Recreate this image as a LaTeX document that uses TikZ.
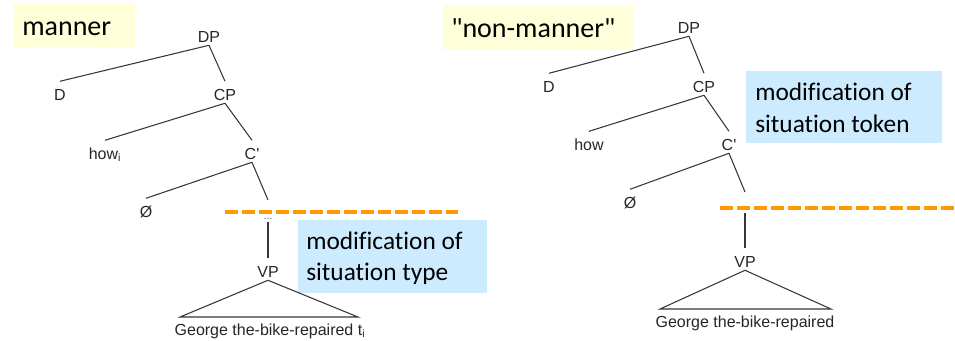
\documentclass[tikz,border=0pt]{standalone}
\usepackage{fontspec}
\newfontfamily\treefont{Liberation Sans}[Ligatures=ResetAll]
\newfontfamily\boxfont{Carlito}[Ligatures={NoCommon}]
\definecolor{yellowbg}{RGB}{255,255,217}
\definecolor{bluebg}{RGB}{204,235,255}
\definecolor{dashorange}{RGB}{255,153,0}
\definecolor{treegray}{RGB}{55,55,55}
\begin{document}
\begin{tikzpicture}[x=0.75pt,y=-0.75pt,
  lab/.style={font=\treefont\fontsize{12}{14}\selectfont, inner sep=0pt, anchor=base,
              text height=8.6pt, text depth=0pt, text=black!85},
  branch/.style={draw=treegray, line width=0.8pt},
  bigtext/.style={font=\boxfont\fontsize{21}{25}\selectfont, anchor=base west, inner sep=0pt},
  modtext/.style={font=\boxfont\fontsize{19}{23}\selectfont, anchor=base west, inner sep=0pt},
  dotsstyle/.style={font=\treefont\fontsize{8}{9}\selectfont, text=black!65, inner sep=0pt},
  cut/.style={draw=dashorange, line width=3pt, dash pattern=on 9.5pt off 3.25pt}
]
\useasboundingbox (0,0) rectangle (955,340);

% ---------------- boxes ----------------
\fill[yellowbg] (13,3) rectangle (135,48);
\node[bigtext] (manner) at (22,35) {manner};
\fill[yellowbg] (443,5) rectangle (634,50);
\node[bigtext] (nonmanner) at (451,37) {"non-manner"};
\fill[bluebg] (298,220) rectangle (487,293);
\node[modtext] (typeA) at (306,249) {modification of};
\node[modtext] (typeB) at (306,280) {situation type};
\fill[bluebg] (746,71) rectangle (942,143);
\node[modtext] (tokA) at (755,100) {modification of};
\node[modtext] (tokB) at (755,132) {situation token};

% ---------------- left tree ----------------
\node[lab] (lDP) at (209,42) {DP};
\node[lab] (lD) at (60,100) {D};
\node[lab] (lCP) at (225,100) {CP};
\node[lab] (lhow) at (105,159) {how\textsubscript{i}};
\node[lab] (lCb) at (252,159) {C'};
\node[lab] (lnull) at (146,217) {Ø};
\coordinate (lend) at (268,200);

\coordinate (lcut1) at (225,212);
\coordinate (lcut2) at (458,212);
\draw[cut] (lcut1) -- (lcut2);

\node[dotsstyle] (ldots) at (268,218.5) {...};
\node[lab] (lVP) at (268,277) {VP};
\node[lab] (lG) at (270,335) {George the-bike-repaired t\textsubscript{i}};
\coordinate (lbl) at (180,317);
\coordinate (lbr) at (358,317);

\draw[branch] ([yshift=-2.25pt]lDP.south) -- ([yshift=5.25pt]lD.north);
\draw[branch] ([yshift=-2.25pt]lDP.south) -- ([yshift=5.25pt]lCP.north);
\draw[branch] ([yshift=-2.25pt]lCP.south) -- ([yshift=5.25pt]lhow.north);
\draw[branch] ([yshift=-2.25pt]lCP.south) -- ([yshift=5.25pt]lCb.north);
\draw[branch] ([yshift=-2.25pt]lCb.south) -- ([yshift=5.25pt]lnull.north);
\draw[branch] ([yshift=-2.25pt]lCb.south) -- (lend);
\draw[branch] ([yshift=-2.25pt]ldots.south) -- ([yshift=5.25pt]lVP.north);
\draw[branch] ([yshift=-2.25pt]lVP.south) -- (lbl) -- (lbr) -- cycle;

% ---------------- right tree ----------------
\node[lab] (rDP) at (689,33) {DP};
\node[lab] (rD) at (549,92) {D};
\node[lab] (rCP) at (704,92) {CP};
\node[lab] (rhow) at (589,150) {how};
\node[lab] (rCb) at (729,150) {C'};
\node[lab] (rnull) at (630,208) {Ø};
\coordinate (rend) at (745,192);
\coordinate (rtop) at (745,213);
\node[lab] (rVP) at (745,267) {VP};
\node[lab] (rG) at (745,327) {George the-bike-repaired};
\coordinate (rbl) at (660,309);
\coordinate (rbr) at (831,309);

\draw[branch] ([yshift=-2.25pt]rDP.south) -- ([yshift=5.25pt]rD.north);
\draw[branch] ([yshift=-2.25pt]rDP.south) -- ([yshift=5.25pt]rCP.north);
\draw[branch] ([yshift=-2.25pt]rCP.south) -- ([yshift=5.25pt]rhow.north);
\draw[branch] ([yshift=-2.25pt]rCP.south) -- ([yshift=5.25pt]rCb.north);
\draw[branch] ([yshift=-2.25pt]rCb.south) -- ([yshift=5.25pt]rnull.north);
\draw[branch] ([yshift=-2.25pt]rCb.south) -- (rend);
\draw[branch] (rtop) -- ([yshift=5.25pt]rVP.north);
\draw[branch] ([yshift=-2.25pt]rVP.south) -- (rbl) -- (rbr) -- cycle;

\coordinate (rcut1) at (720,208);
\coordinate (rcut2) at (955,208);
\draw[cut] (rcut1) -- (rcut2);
\end{tikzpicture}
\end{document}
